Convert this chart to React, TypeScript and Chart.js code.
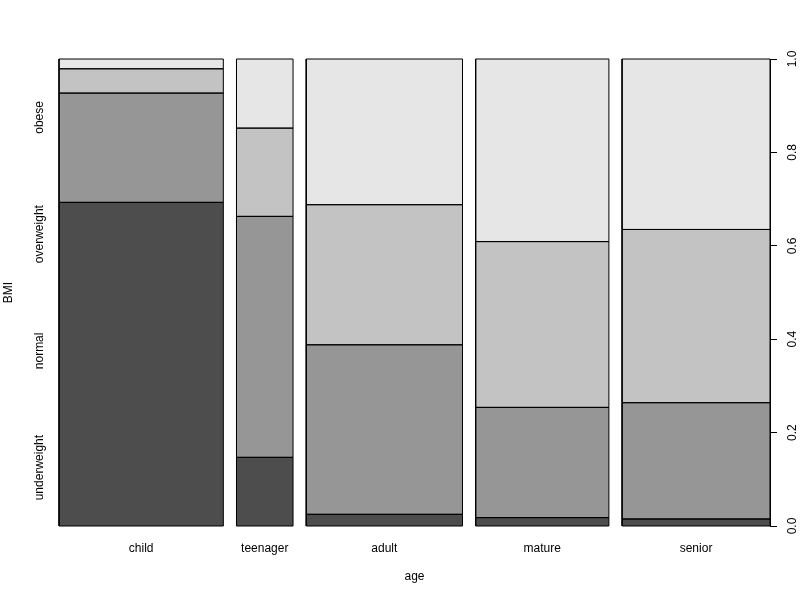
import React, { useEffect, useRef } from 'react';
import { Chart, registerables } from 'chart.js';

Chart.register(...registerables);

// Age groups (x) and their share of all observations (bar widths)
const ageGroups = ['child', 'teenager', 'adult', 'mature', 'senior'];
const ageShares = [0.2496, 0.0859, 0.2374, 0.2024, 0.2247];

// BMI levels (y) and conditional proportions within each age group
const bmiLevels = ['underweight', 'normal', 'overweight', 'obese'];
const underweight = [0.693, 0.147, 0.025, 0.018, 0.015];
const normalBmi = [0.234, 0.516, 0.363, 0.236, 0.249];
const overweight = [0.052, 0.189, 0.300, 0.355, 0.371];
const obese = [0.021, 0.148, 0.312, 0.391, 0.365];

const bmiColors = ['#4D4D4D', '#969696', '#C3C3C3', '#E6E6E6'];
const rightTicks = [0, 0.2, 0.4, 0.6, 0.8, 1.0];
const GAP = 0.02;

const FONT = { family: "'Liberation Sans', Arial, Helvetica, sans-serif", size: 12 };

export default function App() {
  const ref = useRef<HTMLCanvasElement | null>(null);

  useEffect(() => {
    if (!ref.current) return;
    const series = [underweight, normalBmi, overweight, obese];
    const datasets: any[] = [];
    const centers: number[] = [];
    let x0 = 0;
    ageGroups.forEach((g, i) => {
      const x1 = x0 + ageShares[i];
      let y0 = 0;
      series.forEach((s, j) => {
        const y1 = y0 + s[i];
        datasets.push({
          label: `${g} – ${bmiLevels[j]}`,
          data: [
            { x: x0, y: y0 },
            { x: x1, y: y0 },
            { x: x1, y: y1 },
            { x: x0, y: y1 },
            { x: x0, y: y0 },
          ],
          showLine: true,
          fill: 'shape',
          backgroundColor: bmiColors[j],
          borderColor: '#000000',
          borderWidth: 1,
          pointRadius: 0,
          pointHoverRadius: 0,
          tension: 0,
          clip: false,
          yAxisID: 'y',
        });
        y0 = y1;
      });
      centers.push((x0 + x1) / 2);
      x0 = x1 + GAP;
    });
    const xMax = x0 - GAP;

    const chart = new Chart(ref.current, {
      type: 'scatter',
      data: { datasets },
      options: {
        responsive: false,
        animation: false,
        events: [],
        layout: { padding: { top: 59, left: 0, right: 0, bottom: 0 } },
        plugins: {
          legend: { display: false },
          tooltip: { enabled: false },
          filler: { drawTime: 'beforeDatasetsDraw' },
        },
        scales: {
          x: {
            type: 'linear',
            position: 'bottom',
            min: 0,
            max: xMax,
            grid: { display: false, drawTicks: false },
            border: { display: false },
            afterBuildTicks: (scale: any) => {
              scale.ticks = centers.map((v) => ({ value: v }));
            },
            afterFit: (scale: any) => {
              scale.height = 74;
            },
            ticks: {
              autoSkip: false,
              maxRotation: 0,
              minRotation: 0,
              padding: 15,
              color: '#000',
              font: FONT,
              callback: (_v: any, i: number) => ageGroups[i],
            },
            title: {
              display: true,
              text: 'age',
              color: '#000',
              font: FONT,
              padding: { top: 0, bottom: 16 },
            },
          },
          y: {
            type: 'linear',
            position: 'left',
            min: 0,
            max: 1,
            grid: { display: false, drawTicks: false },
            border: { display: false },
            afterBuildTicks: (scale: any) => {
              scale.ticks = bmiLevels.map((_, j) => ({ value: (j + 0.5) / bmiLevels.length }));
            },
            afterFit: (scale: any) => {
              scale.width = 59;
            },
            ticks: {
              autoSkip: false,
              minRotation: 90,
              maxRotation: 90,
              crossAlign: 'center',
              padding: -13.5,
              color: '#000',
              font: FONT,
              callback: (_v: any, i: number) => bmiLevels[i],
            },
            title: {
              display: true,
              text: 'BMI',
              color: '#000',
              font: FONT,
              padding: { top: 1, bottom: 0 },
            },
          },
          y2: {
            type: 'linear',
            position: 'right',
            min: 0,
            max: 1,
            grid: { drawOnChartArea: false, drawTicks: true, tickLength: 7, color: '#000' },
            border: { display: true, color: '#000' },
            afterBuildTicks: (scale: any) => {
              scale.ticks = rightTicks.map((v) => ({ value: v }));
            },
            afterFit: (scale: any) => {
              scale.width = 30;
            },
            ticks: {
              autoSkip: false,
              minRotation: 90,
              maxRotation: 90,
              crossAlign: 'center',
              padding: 7,
              color: '#000',
              font: FONT,
              callback: (v: any) => Number(v).toFixed(1),
            },
          },
        },
      } as any,
    });
    return () => chart.destroy();
  }, []);

  return (
    <div style={{ position: 'absolute', left: 0, top: 0, width: 800, height: 600 }}>
      <canvas ref={ref} width={800} height={600} style={{ display: 'block' }} />
    </div>
  );
}
